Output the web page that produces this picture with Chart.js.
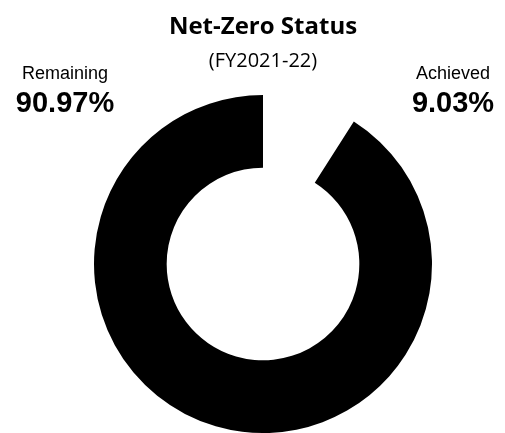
<!DOCTYPE html>
<html>
<head>
<meta charset="utf-8">
<script src="https://cdn.jsdelivr.net/npm/chart.js@4.4.0/dist/chart.umd.min.js"></script>
<style>
  html, body { margin: 0; padding: 0; background: #fff; }
  #wrap { width: 505px; height: 433px; position: relative; }
</style>
</head>
<body>
<div id="wrap"><canvas id="chart_netZeroStatus"></canvas></div>
<script>
// data
var categories = ['Achieved', 'Remaining'];
var shares = [9.03, 90.97];
var sliceColors = ['#ffffff', '#000000'];
var chartTitle = 'Net-Zero Status';
var chartSubtitle = '(FY2021-22)';

// side labels: Remaining on the left, Achieved on the right
var sideLabels = {
    id: 'sideLabels',
    afterDraw: (chart) => {
        const ctx = chart.ctx;
        const spots = [
            { idx: 1, x: 65 },
            { idx: 0, x: 453 }
        ];
        ctx.save();
        ctx.fillStyle = '#000';
        ctx.textAlign = 'center';
        ctx.textBaseline = 'alphabetic';
        spots.forEach(function(s) {
            ctx.font = '18px "Liberation Sans", Arial, sans-serif';
            ctx.fillText(categories[s.idx], s.x, 79);
            ctx.font = 'bold 29px "Liberation Sans", Arial, sans-serif';
            ctx.fillText(shares[s.idx].toFixed(2) + '%', s.x, 112);
        });
        ctx.restore();
    }
};

var chart_netZeroStatus = new Chart(document.getElementById('chart_netZeroStatus'), {
    type: 'doughnut',
    data: {
        labels: categories,
        datasets: [{
            data: shares,
            backgroundColor: sliceColors,
            borderWidth: 0,
            hoverOffset: 0
        }]
    },
    options: {
        animation: false,
        responsive: true,
        maintainAspectRatio: false,
        events: [],
        cutout: '57%',
        layout: {
            padding: { left: 94, right: 73, top: 0, bottom: 0 }
        },
        plugins: {
            legend: { display: false },
            tooltip: { enabled: false },
            title: {
                display: true,
                text: chartTitle,
                color: '#000',
                font: { family: '"Open Sans", sans-serif', size: 24, weight: 'bold', lineHeight: 1.2 },
                padding: { top: 13, bottom: 0 }
            },
            subtitle: {
                display: true,
                text: chartSubtitle,
                color: '#000',
                font: { family: '"Open Sans", sans-serif', size: 20, weight: 'normal', lineHeight: 1.2 },
                padding: { top: 7, bottom: 22.2 }
            }
        }
    },
    plugins: [sideLabels]
});
</script>
</body>
</html>
